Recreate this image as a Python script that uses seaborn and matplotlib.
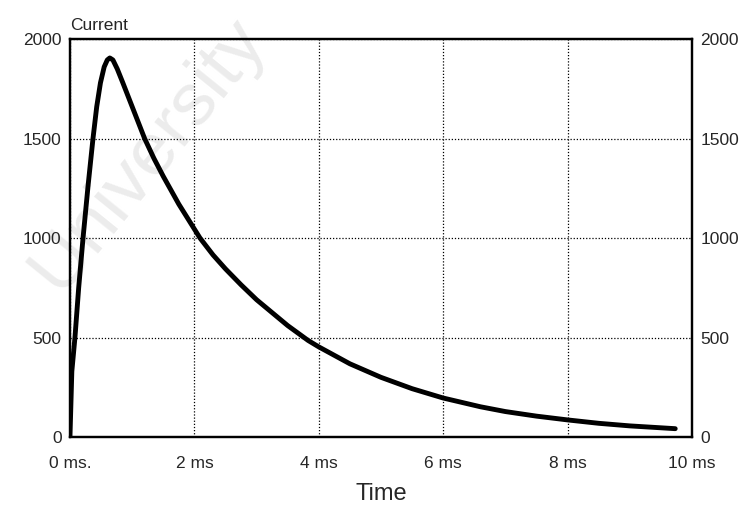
import numpy as np
import pandas as pd
import seaborn as sns
import matplotlib
matplotlib.use("Agg")
import matplotlib.pyplot as plt

# values (time in ms, current)
time_ms = [0.0, 0.03, 0.08, 0.14, 0.21, 0.29, 0.37, 0.43, 0.49, 0.55, 0.6,
           0.64, 0.69, 0.76, 0.85, 1.0, 1.2, 1.35, 1.5, 1.75, 2.09, 2.3,
           2.5, 2.75, 3.0, 3.25, 3.5, 3.83, 4.0, 4.5, 5.0, 5.5, 6.0, 6.6,
           7.0, 7.5, 8.0, 8.5, 9.0, 9.73]
current = [0, 330, 500, 750, 1000, 1260, 1500, 1660, 1780, 1860, 1895,
           1905, 1895, 1850, 1780, 1660, 1500, 1400, 1310, 1170, 1000, 915,
           845, 765, 690, 625, 560, 485, 453, 368, 300, 243, 196, 152,
           128, 105, 86, 69, 56, 42]

x_ticks = [0, 2, 4, 6, 8, 10]
x_labels = ["0 ms.", "2 ms", "4 ms", "6 ms", "8 ms", "10 ms"]
y_ticks = [0, 500, 1000, 1500, 2000]

sns.set_style("white")
plt.rcParams["font.family"] = ["Liberation Sans", "DejaVu Sans"]

df = pd.DataFrame({"t": time_ms, "i": current})

fig = plt.figure(figsize=(7.54, 5.07), dpi=100)
ax = fig.add_axes([0.0928, 0.138, 0.8250, 0.785])

# faint watermark of the scan, kept behind everything else
ax.text(0.125, 0.71, "University", transform=ax.transAxes, fontsize=54,
        color="#ececec", rotation=51, ha="center", va="center",
        zorder=0, clip_on=False)

sns.lineplot(data=df, x="t", y="i", ax=ax, color="black", linewidth=3.5,
             solid_joinstyle="round", zorder=3)

ax.set_xlim(0, 10)
ax.set_ylim(0, 2000)
ax.set_xticks(x_ticks)
ax.set_xticklabels(x_labels)
ax.set_yticks(y_ticks)
ax.grid(True, color="black", linestyle=(0, (1, 1.5)), linewidth=0.9)
ax.tick_params(axis="x", length=0, pad=14, labelsize=12.5)
ax.tick_params(axis="y", length=0, pad=6, labelsize=12.5)
for s in ax.spines.values():
    s.set_color("black")
    s.set_linewidth(1.6)

ax2 = ax.twinx()
ax2.set_ylim(0, 2000)
ax2.set_yticks(y_ticks)
ax2.tick_params(axis="y", length=0, pad=6, labelsize=12.5)
for s in ax2.spines.values():
    s.set_color("black")
    s.set_linewidth(1.6)

ax.set_xlabel("Time", fontsize=17, labelpad=8)
ax.set_ylabel("")
ax.text(0.0, 1.015, "Current", transform=ax.transAxes, fontsize=12.5,
        ha="left", va="bottom")

fig.savefig("out.png", dpi=100)
